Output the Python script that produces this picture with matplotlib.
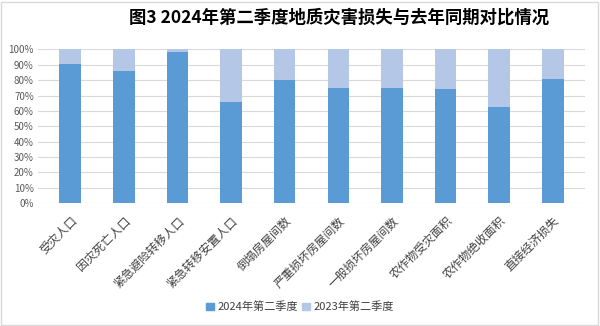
import matplotlib.pyplot as plt
from matplotlib.patches import Rectangle, Patch
from matplotlib.ticker import PercentFormatter

plt.rcParams['font.family'] = ['Noto Sans CJK SC', 'DejaVu Sans']

categories = ["受灾人口", "因灾死亡人口", "紧急避险转移人口", "紧急转移安置人口", "倒塌房屋间数",
              "严重损坏房屋间数", "一般损坏房屋间数", "农作物受灾面积", "农作物绝收面积", "直接经济损失"]
share_2024 = [90.6, 85.9, 98.3, 65.9, 80.2, 75.0, 75.0, 74.2, 62.6, 80.9]
share_2023 = [100 - v for v in share_2024]
series_names = ["2024年第二季度", "2023年第二季度"]

dark = "#5B9BD5"
light = "#B4C7E7"

fig = plt.figure(figsize=(6, 3.26), dpi=100)
ax = fig.add_axes([38 / 600, 1 - 203 / 326, 547 / 600, 153.5 / 326])

x = list(range(len(categories)))
ax.bar(x, share_2024, width=0.4, color=dark, zorder=2)
ax.bar(x, share_2023, width=0.4, bottom=share_2024, color=light, zorder=2)

ax.set_ylim(0, 100)
ax.set_xlim(-0.6, 9.6)
ax.set_yticks(range(0, 101, 10))
ax.yaxis.set_major_formatter(PercentFormatter(decimals=0))
ax.grid(axis='y', color="#D9D9D9", linewidth=0.8, zorder=0)
for s in ax.spines.values():
    s.set_visible(False)
ax.tick_params(axis='both', length=0, colors="#595959", labelsize=7)
ax.tick_params(axis='y', pad=3)
ax.set_xticks(x)
ax.set_xticklabels(categories, rotation=45, ha='right', va='top',
                   rotation_mode='anchor', fontsize=8.5, color="#404040")
ax.tick_params(axis='x', pad=8)

fig.text(0.565, 0.945, "图3 2024年第二季度地质灾害损失与去年同期对比情况",
         ha='center', va='center', fontsize=12.5, fontweight='bold', color="#000000")

handles = [Patch(color=dark), Patch(color=light)]
fig.legend(handles, series_names, loc='center', bbox_to_anchor=(0.5, 0.058), ncol=2,
           frameon=False, fontsize=8, handlelength=0.7, handleheight=0.7,
           handletextpad=0.3, columnspacing=0.4, labelcolor="#404040")

fig.patches.append(Rectangle((0.002, 0.003), 0.995, 0.992, transform=fig.transFigure,
                             fill=False, edgecolor="#D9D9D9", linewidth=1))

fig.savefig("out.png", dpi=100)
